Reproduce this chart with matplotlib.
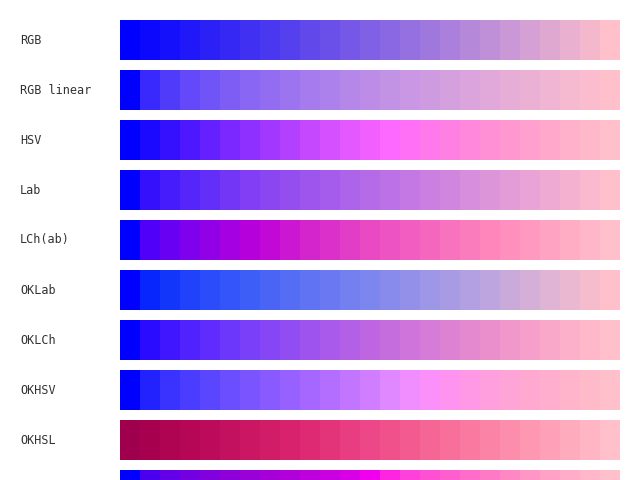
import numpy as np
import matplotlib
matplotlib.use("Agg")
import matplotlib.pyplot as plt

# color ramps blue -> pink, interpolated in different spaces
labels = ["RGB", "RGB linear", "HSV", "Lab", "LCh(ab)", "OKLab", "OKLCh", "OKHSV", "OKHSL", ""]

rgb = ["#0000ff", "#0b08fd", "#1510fb", "#2018f9", "#2b20f6", "#3528f4", "#4030f2", "#4a38f0",
       "#5540ee", "#6048eb", "#6a50e9", "#7558e7", "#8060e5", "#8a68e3", "#9570e1", "#9f78de",
       "#aa80dc", "#b588da", "#bf90d8", "#ca98d6", "#d5a0d4", "#dfa8d1", "#eab0cf", "#f4b8cd", "#ffc0cb"]

rgb_linear = ["#0000ff", "#3a29fd", "#513bfb", "#6349f9", "#7154f7", "#7e5df5", "#8966f3", "#936df1",
              "#9c74ef", "#a57bed", "#ad81eb", "#b487e9", "#bc8ce7", "#c292e5", "#c997e3", "#cf9be0",
              "#d5a0de", "#dba4dc", "#e1a9da", "#e6add7", "#ebb1d5", "#f0b5d2", "#f5b9d0", "#fabcce", "#ffc0cb"]

hsv = ["#0000ff", "#1b08ff", "#3410ff", "#4d18ff", "#6420ff", "#7a28ff", "#8e30ff", "#a238ff",
       "#b440ff", "#c548ff", "#d550ff", "#e458ff", "#f160ff", "#fd68ff", "#ff70f6", "#ff78ec",
       "#ff80e3", "#ff88dc", "#ff90d6", "#ff98d1", "#ffa0ce", "#ffa8cb", "#ffb0ca", "#ffb8ca", "#ffc0cb"]

lab = ["#0000ff", "#3410fd", "#461bfc", "#5625fa", "#642ef9", "#7336f7", "#813ef4", "#8b46f2",
       "#944ef0", "#9d55ee", "#a55cec", "#ad63ea", "#b56ae8", "#bc71e6", "#c378e4", "#ca7fe1",
       "#d086df", "#d78edd", "#dd95da", "#e39cd8", "#e9a3d6", "#efaad3", "#f4b1d0", "#fab9ce", "#ffc0cb"]

lch = ["#0000ff", "#5000f9", "#6800f3", "#7e00ed", "#9200e8", "#a500e2", "#b600dc", "#c108d7",
       "#cb16d2", "#d425cd", "#db31ca", "#e23dc6", "#e949c3", "#ed53c2", "#f15dc1", "#f567bf",
       "#f872be", "#fb7cbc", "#fe86bb", "#ff8fbd", "#ff99bf", "#ffa3c2", "#ffadc5", "#ffb6c8", "#ffc0cb"]

oklab = ["#0000ff", "#0725fd", "#1237fb", "#2042fb", "#2a4cfa", "#3455f9", "#3e5ef8", "#4a65f6",
         "#556cf5", "#6073f3", "#6a79f1", "#7480f0", "#7d86ee", "#888bec", "#9390e9", "#9e96e7",
         "#a89be4", "#b3a0e2", "#bda5df", "#c9aadb", "#d5afd8", "#e0b4d5", "#eab8d1", "#f5bcce", "#ffc0cb"]

oklch = ["#0000ff", "#2b0bff", "#3f16ff", "#5022fe", "#5f2cfd", "#6d36fb", "#7a40f9", "#8646f6",
         "#924df2", "#9e53ee", "#a95aea", "#b460e6", "#be66e1", "#c66dde", "#ce74da", "#d67bd7",
         "#dd82d3", "#e488cf", "#ea8fcb", "#f097cb", "#f59fca", "#f9a8ca", "#fcb0ca", "#feb8ca", "#ffc0cb"]

okhsv = ["#0000ff", "#2222ff", "#3a33ff", "#4a3dff", "#5a46ff", "#6a4eff", "#7954ff", "#885aff",
         "#9761ff", "#a567ff", "#b46eff", "#c276ff", "#d07eff", "#e088ff", "#f08eff", "#fc90fb",
         "#ff94f0", "#ff99e6", "#ff9fdd", "#ffa4d6", "#ffa9d0", "#ffaecd", "#ffb4cb", "#ffbaca", "#ffc0cb"]

okhsl = ["#9e004d", "#a6004f", "#ae0452", "#b50756", "#bc0b5a", "#c3105f", "#ca1663", "#d11c68",
         "#d8226d", "#de2a73", "#e33379", "#e83d80", "#ec4786", "#f0518b", "#f35b90", "#f56595",
         "#f76f9a", "#f979a0", "#fb83a6", "#fc8dac", "#fd97b2", "#fea1b8", "#feabbe", "#ffb5c4", "#ffc0cb"]

last = ["#0000ff", "#4a00ee", "#6400e8", "#7400e2", "#8200de", "#8e00da", "#9a00d8", "#a600d8",
        "#b200da", "#be00dc", "#ca00e0", "#d800e6", "#f000ee", "#ff24e2", "#ff40da", "#ff50d4",
        "#ff5ece", "#ff6cca", "#ff7ac6", "#ff88c4", "#ff96c5", "#ffa2c6", "#ffadc8", "#ffb7c9", "#ffc0cb"]

rows = [rgb, rgb_linear, hsv, lab, lch, oklab, oklch, okhsv, okhsl, last]

fig = plt.figure(figsize=(6.4, 4.8), dpi=100)
ax = fig.add_axes([0, 0, 1, 1])
ax.set_xlim(0, 640)
ax.set_ylim(480, 0)
ax.axis("off")

for r, colors in enumerate(rows):
    y = 40 + 50 * r
    n = len(colors)
    ax.barh(y, 20, left=120 + 20 * np.arange(n), height=40, color=colors,
            linewidth=0, antialiased=False)
    if labels[r]:
        ax.text(20, y, labels[r], ha="left", va="center",
                family="DejaVu Sans Mono", fontsize=8.5, color="#333333")

fig.savefig("out.png", dpi=100)
